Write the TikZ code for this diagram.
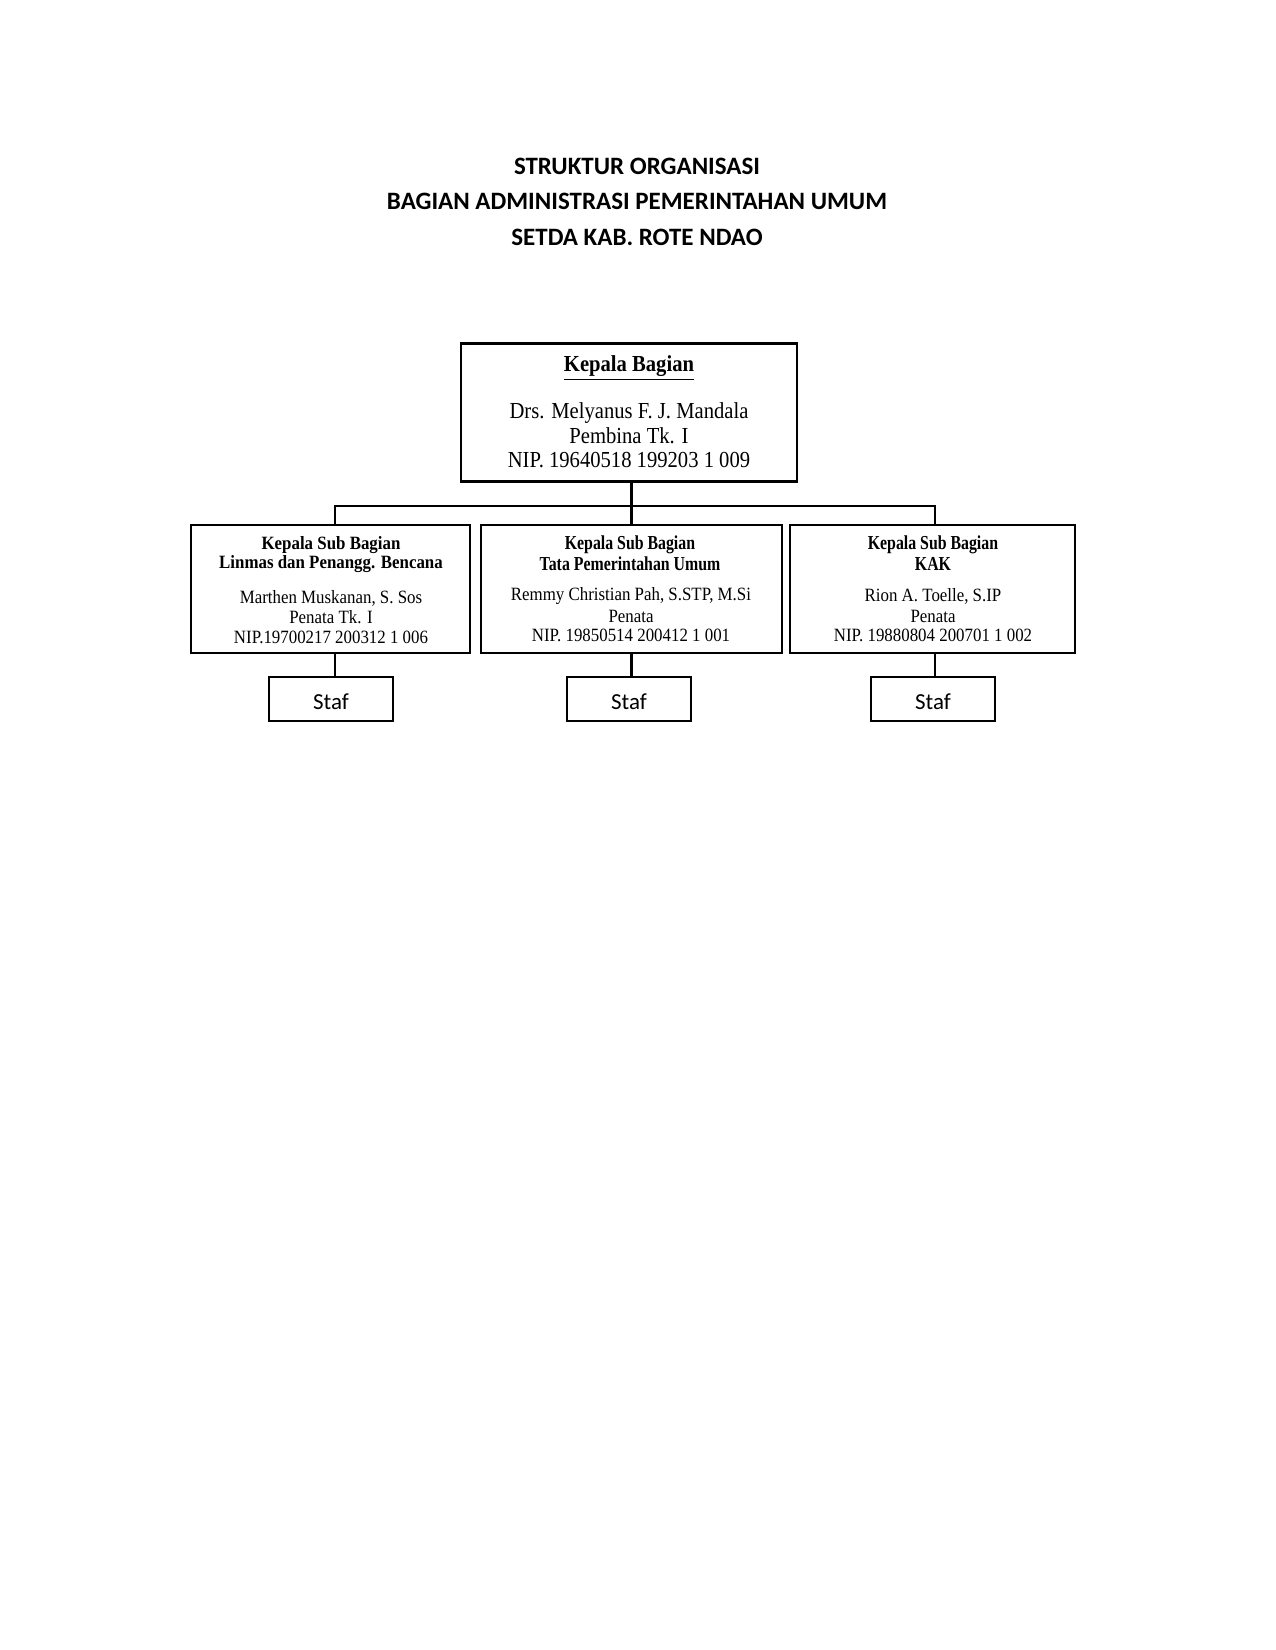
\documentclass[tikz,border=0pt]{standalone}
\usepackage{fontspec}
\setmainfont{Liberation Serif}
\newfontfamily\calib{Carlito}
\newfontfamily\tnr[FakeStretch=0.9]{Liberation Serif}
\newfontfamily\tnrc[FakeStretch=0.8]{Liberation Serif}
\begin{document}
\begin{tikzpicture}[x=0.48pt,y=-0.48pt,
  ttl/.style={font=\calib\bfseries\fontsize{12}{14}\selectfont, inner sep=0},
  topbox/.style={draw, line width=1.4pt, inner sep=0, minimum width=161.3pt, minimum height=65.8pt},
  subbox/.style={draw, line width=1pt, inner sep=0, minimum height=61.4pt},
  stafbox/.style={draw, line width=1.1pt, inner sep=0, minimum width=59.5pt, minimum height=21.1pt},
  staftxt/.style={font=\calib\fontsize{11}{13}\selectfont, inner sep=0},
  toptxt/.style={font=\tnr\fontsize{11}{13}\selectfont, inner sep=0},
  subtxt/.style={font=\tnr\fontsize{9}{11}\selectfont, inner sep=0},
  subhd/.style={font=\tnr\bfseries\fontsize{9}{11}\selectfont, inner sep=0},
  subhdc/.style={font=\tnrc\bfseries\fontsize{9.5}{11}\selectfont, inner sep=0},
  conn/.style={line width=1pt}]
\useasboundingbox (0,0) rectangle (1275,1650);
\fill[white] (0,0) rectangle (1275,1650);

% title
\node[ttl] (t1) at (637,166) {STRUKTUR ORGANISASI};
\node[ttl] (t2) at (637,201) {BAGIAN ADMINISTRASI PEMERINTAHAN UMUM};
\node[ttl] (t3) at (637,237) {SETDA KAB. ROTE NDAO};

% top box
\node[topbox] (kb) at (629,412.5) {};
\node[toptxt, font=\tnr\bfseries\fontsize{11}{13}\selectfont] (kbh) at (629,368) {\underline{Kepala Bagian}};
\node[toptxt] (kb1) at (629,413) {Drs. Melyanus F. J. Mandala};
\node[toptxt] (kb2) at (629,436) {Pembina Tk. I};
\node[toptxt] (kb3) at (629,460) {NIP. 19640518 199203 1 009};

% sub boxes
\node[subbox, minimum width=133.9pt] (sl) at (330.5,589) {};
\node[subbox, minimum width=144.5pt] (sm) at (631.5,589) {};
\node[subbox, minimum width=136.8pt] (sr) at (932.5,589) {};

\node[subhd] (sl1) at (331,545) {Kepala Sub Bagian};
\node[subhd] (sl2) at (331,564) {Linmas dan Penangg. Bencana};
\node[subtxt] (sl3) at (331,598) {Marthen Muskanan, S. Sos};
\node[subtxt] (sl4) at (331,617) {Penata Tk. I};
\node[subtxt] (sl5) at (331,637) {NIP.19700217 200312 1 006};

\node[subhdc] (sm1) at (630,545) {Kepala Sub Bagian};
\node[subhdc] (sm2) at (630,564) {Tata Pemerintahan Umum};
\node[subtxt] (sm3) at (631,596) {Remmy Christian Pah, S.STP, M.Si};
\node[subtxt] (sm4) at (631,616) {Penata};
\node[subtxt] (sm5) at (631,635) {NIP. 19850514 200412 1 001};

\node[subhdc] (sr1) at (933,545) {Kepala Sub Bagian};
\node[subhdc] (sr2) at (933,564) {KAK};
\node[subtxt] (sr3) at (933,596) {Rion A. Toelle, S.IP};
\node[subtxt] (sr4) at (933,616) {Penata};
\node[subtxt] (sr5) at (933,635) {NIP. 19880804 200701 1 002};

% staf boxes
\node[stafbox] (fl) at (331,699) {};
\node[stafbox] (fm) at (629,699) {};
\node[stafbox] (fr) at (933,699) {};
\node[staftxt] (flt) at (331,702) {Staf};
\node[staftxt] (fmt) at (629,702) {Staf};
\node[staftxt] (frt) at (933,702) {Staf};

% connectors
\coordinate (lx) at (335,506);
\coordinate (rx) at (935,506);
\draw[conn] (kb.south -| sm.north) -- (sm.north);
\draw[conn] (sl.north -| lx) -- (lx) -- (rx) -- (sr.north -| rx);
\draw[conn] (sl.south -| lx) -- (fl.north -| lx);
\draw[conn] (sm.south -| sm.north) -- (fm.north -| sm.north);
\draw[conn] (sr.south -| rx) -- (fr.north -| rx);
\end{tikzpicture}
\end{document}
